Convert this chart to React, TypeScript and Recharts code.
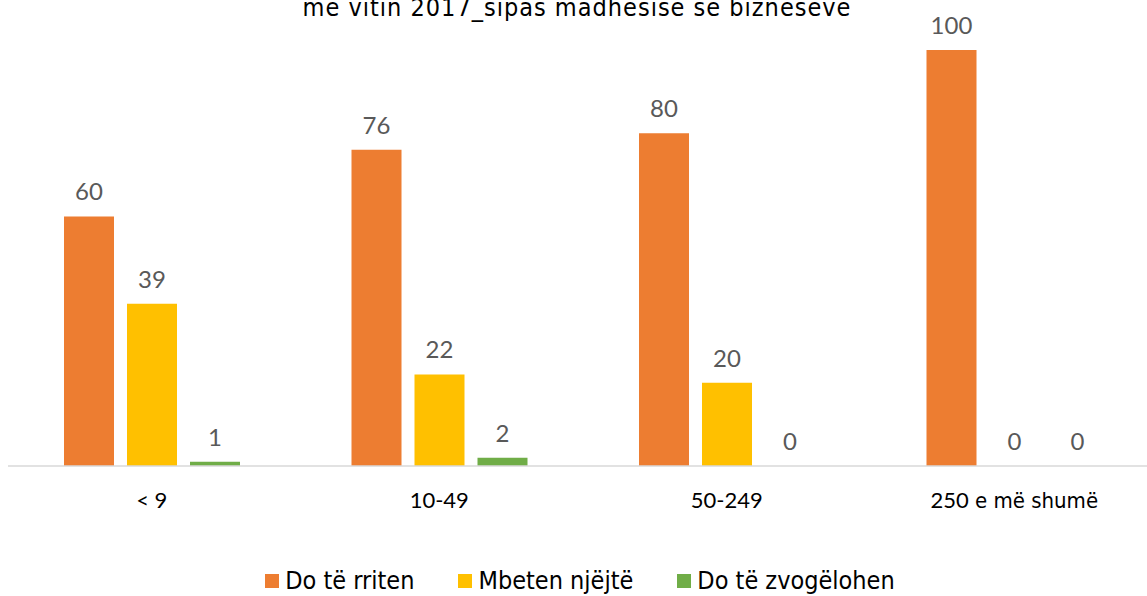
import { Bar, BarChart, LabelList, XAxis, YAxis } from "recharts";

// Categories and series.
const categories = ["< 9", "10-49", "50-249", "250 e më shumë"];
const seriesNames = ["Do të rriten", "Mbeten njëjtë", "Do të zvogëlohen"];
const rritenValues = [60, 76, 80, 100];
const njejteValues = [39, 22, 20, 0];
const zvogelohenValues = [1, 2, 0, 0];

const COLORS = ["#ED7D31", "#FFC000", "#70AD47"];
const TITLE = "më vitin 2017_sipas madhësisë së bizneseve";

const NUM_FONT = "Lato, 'Open Sans', sans-serif";
const NARROW_FONT = "'Liberation Sans Narrow', 'DejaVu Sans Condensed', sans-serif";

const data = categories.map((c, i) => ({
  cat: c,
  rriten: rritenValues[i],
  njejte: njejteValues[i],
  zvogelohen: zvogelohenValues[i],
}));

function CategoryTick(props: any) {
  const { x, y, payload } = props;
  const v: string = payload.value;
  const m = v.match(/^(\d+)(\s.*)$/);
  return (
    <text x={x} y={y + 42} textAnchor="middle" fill="#000" fontSize={22} fontFamily={NUM_FONT}>
      {m ? (
        <>
          <tspan>{m[1]}</tspan>
          <tspan fontFamily={NARROW_FONT} fontSize={22}>{m[2]}</tspan>
        </>
      ) : (
        v
      )}
    </text>
  );
}

export default function App() {
  const keys = ["rriten", "njejte", "zvogelohen"];
  return (
    <div
      style={{
        position: "fixed",
        top: 0,
        left: 0,
        width: 1147,
        height: 596,
        overflow: "hidden",
        background: "#fff",
      }}
    >
      {/* title is cut at the top edge in the reference; only its last line shows */}
      <svg width={1147} height={30} style={{ position: "absolute", top: 0, left: 0 }}>
        <text x={577} y={16} textAnchor="middle" fontSize={25} fontFamily={NARROW_FONT} fill="#000" letterSpacing={1}>
          {TITLE}
        </text>
      </svg>
      <div style={{ position: "absolute", top: 0, left: 0 }}>
        <BarChart
          width={1180}
          height={540}
          data={data}
          margin={{ top: 50, right: 22, left: 8, bottom: 0 }}
          barGap={13}
          barSize={50}
        >
          <XAxis
            dataKey="cat"
            height={74}
            axisLine={{ stroke: "#d9d9d9", strokeWidth: 1.5 }}
            tickLine={false}
            tickSize={0}
            tickMargin={0}
            interval={0}
            tick={<CategoryTick />}
          />
          <YAxis hide domain={[0, 100]} />
          {keys.map((k, i) => (
            <Bar
              key={k}
              dataKey={k}
              name={seriesNames[i]}
              fill={COLORS[i]}
              minPointSize={0.01}
              isAnimationActive={false}
            >
              <LabelList
                dataKey={k}
                position="top"
                offset={16}
                fill="#595959"
                fontSize={24}
                fontFamily={NUM_FONT}
              />
            </Bar>
          ))}
        </BarChart>
      </div>
      <div
        style={{
          position: "absolute",
          top: 566,
          left: 0,
          width: 1160,
          display: "flex",
          justifyContent: "center",
          gap: 44,
          fontFamily: NARROW_FONT,
          fontSize: 25,
          color: "#000",
        }}
      >
        {seriesNames.map((n, i) => (
          <div key={n} style={{ display: "flex", alignItems: "center", gap: 6 }}>
            <span style={{ width: 14, height: 14, background: COLORS[i], display: "inline-block" }} />
            <span>{n}</span>
          </div>
        ))}
      </div>
    </div>
  );
}
